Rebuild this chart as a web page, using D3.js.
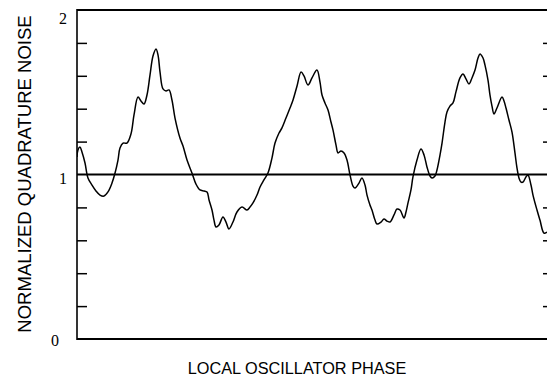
<!DOCTYPE html>
<html><head><meta charset="utf-8">
<script src="https://cdn.jsdelivr.net/npm/d3@7"></script>
<style>html,body{margin:0;padding:0;background:#fff;}svg{display:block;}</style>
</head><body>
<svg id="c" width="547" height="378"></svg>
<script>
// Local oscillator phase (degrees) and normalized quadrature noise
const phase = [0,1.1,3.4,5.7,9.2,12.6,17.2,21.8,26.4,31.0,35.6,40.2,43.7,47.1,49.4,52.9,57.4,62.0,65.5,70.1,73.5,77.0,80.4,83.9,87.3,90.8,93.1,95.4,98.8,102.3,105.7,109.1,112.6,118.3,121.8,126.4,132.1,136.7,141.3,145.9,149.4,151.7,155.1,157.4,159.7,163.1,167.7,171.2,174.6,179.2,183.8,189.6,195.3,198.8,202.2,206.8,210.3,214.8,219.4,224.0,227.5,232.1,235.5,240.1,244.7,248.2,252.8,257.4,260.8,265.4,270.0,275.7,279.2,281.5,284.9,288.4,291.8,294.1,297.6,299.9,303.3,306.8,310.2,313.7,317.1,319.4,324.0,327.4,330.9,333.2,336.6,338.9,342.4,344.7,349.3,352.7,356.2,359.6,364.2,367.6,371.1,375.7,378.0,380.3,383.7,386.0,390.6,395.2,398.7,402.1,405.6,407.9,411.3,413.6,417.1,419.4,422.8,425.1,428.5,432.0,435.4,440.0,443.5,446.9,450.4,453.8,457.3,460.7,463.0,466.5,468.7,472.2,474.5,476.8,479.1,482.5,488.3,490.6,492.9,496.3,499.8,503.2,505.5,507.8,510.1,512.4,515.8,518.1,521.6,523.9,528.5,531.9,536.5,540.0];
const noise = [1.106,1.149,1.167,1.137,1.070,0.979,0.936,0.900,0.875,0.869,0.894,0.948,1.009,1.088,1.161,1.191,1.191,1.246,1.362,1.471,1.447,1.429,1.483,1.605,1.720,1.763,1.726,1.623,1.520,1.508,1.514,1.453,1.343,1.222,1.173,1.088,1.009,0.942,0.906,0.900,0.894,0.845,0.784,0.723,0.681,0.693,0.742,0.711,0.669,0.711,0.772,0.802,0.784,0.802,0.827,0.875,0.924,0.967,1.009,1.100,1.191,1.252,1.283,1.343,1.404,1.453,1.538,1.623,1.599,1.544,1.587,1.635,1.562,1.483,1.435,1.392,1.319,1.271,1.179,1.131,1.143,1.131,1.088,0.997,0.930,0.918,0.948,0.979,0.936,0.875,0.815,0.784,0.723,0.699,0.711,0.729,0.717,0.711,0.754,0.790,0.784,0.736,0.772,0.827,0.906,0.985,1.088,1.155,1.119,1.046,0.991,0.979,0.991,1.027,1.119,1.191,1.319,1.380,1.416,1.435,1.502,1.587,1.611,1.581,1.550,1.587,1.635,1.708,1.733,1.708,1.666,1.574,1.483,1.416,1.368,1.404,1.471,1.447,1.404,1.331,1.258,1.131,1.040,0.979,0.954,0.954,0.985,0.997,0.936,0.875,0.784,0.723,0.644,0.650];
const yTickValues = [0.2,0.4,0.6,0.8,1.2,1.4,1.6,1.8];
const yLabelValues = [0,1,2];
const referenceLevel = 1;
const xTitle = "LOCAL OSCILLATOR PHASE";
const yTitle = "NORMALIZED QUADRATURE NOISE";

const svg = d3.select("#c");
const L = 77, R = 548, T = 10, B = 339;
const x = d3.scaleLinear().domain([0, 540]).range([L, 547]);
const y = d3.scaleLinear().domain([0, 2]).range([B, T]);

svg.append("defs").append("clipPath").attr("id","clip")
  .append("rect").attr("x",L).attr("y",T).attr("width",R-L).attr("height",B-T);

// frame
svg.append("line").attr("x1",L).attr("x2",R).attr("y1",T).attr("y2",T).attr("stroke","#000").attr("stroke-width",2);
svg.append("line").attr("x1",L).attr("x2",R).attr("y1",B).attr("y2",B).attr("stroke","#000").attr("stroke-width",2);
svg.append("line").attr("x1",L).attr("x2",L).attr("y1",T-1).attr("y2",B+1).attr("stroke","#000").attr("stroke-width",1.6);

// ticks (inward) left and right
const gl = svg.append("g").attr("transform",`translate(${L},0)`)
  .call(d3.axisRight(y).tickValues(yTickValues).tickSize(10).tickFormat(""));
gl.select(".domain").remove();
gl.selectAll("line").attr("stroke","#000").attr("stroke-width",1.5);
const gr = svg.append("g").attr("transform",`translate(${R},0)`)
  .call(d3.axisLeft(y).tickValues(yTickValues).tickSize(5).tickFormat(""));
gr.select(".domain").remove();
gr.selectAll("line").attr("stroke","#000").attr("stroke-width",1.5);

// tick labels
svg.selectAll("text.yl").data(yLabelValues).enter().append("text")
  .attr("class","yl")
  .attr("x", d => d === 0 ? 55 : 63)
  .attr("y", d => y(d) + (d === 2 ? 8 : d === 1 ? 4 : 1))
  .attr("text-anchor","middle").attr("dominant-baseline","central")
  .attr("font-family","Liberation Serif, serif").attr("font-size",16)
  .text(d => d);

// reference line at 1
svg.append("line").attr("x1",L).attr("x2",R)
  .attr("y1",y(referenceLevel)).attr("y2",y(referenceLevel))
  .attr("stroke","#000").attr("stroke-width",1.8);

// curve
const pts = phase.map((p,i)=>[p, noise[i]]);
svg.append("path").datum(pts)
  .attr("clip-path","url(#clip)")
  .attr("fill","none").attr("stroke","#000").attr("stroke-width",1.5)
  .attr("stroke-linejoin","round")
  .attr("d", d3.line().x(d=>x(d[0])).y(d=>y(d[1])).curve(d3.curveCatmullRom.alpha(0.5)));

// titles
svg.append("text").attr("x",297).attr("y",374).attr("text-anchor","middle")
  .attr("font-family","Liberation Sans, Arial, sans-serif").attr("font-size",16.3)
  .text(xTitle);
svg.append("text").attr("transform","translate(31,174) rotate(-90)").attr("text-anchor","middle")
  .attr("font-family","Liberation Sans, Arial, sans-serif").attr("font-size",18.5)
  .text(yTitle);
</script>
</body></html>
